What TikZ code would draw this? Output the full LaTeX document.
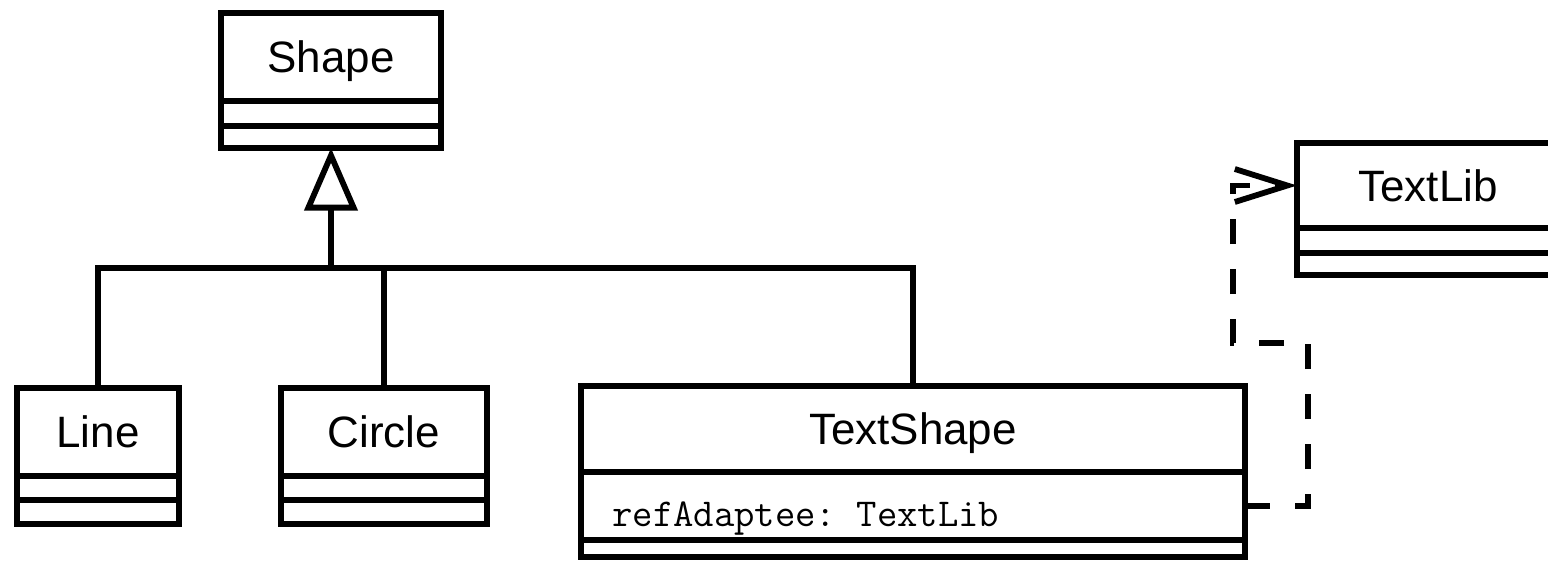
\documentclass[tikz,border=0pt]{standalone}
\usepackage{fontspec}
\setmainfont{Liberation Sans}
\usetikzlibrary{arrows.meta,positioning,calc}

\tikzset{
    classname/.style={draw, line width=3.3pt, outer sep=0pt, inner sep=0pt, text height=0.62cm, text depth=0pt, font=\fontsize{25}{29}\selectfont},
    classpart/.style={draw, line width=3.3pt, outer sep=0pt, inner sep=0pt},
    inherit/.style={line width=3.3pt, -{Triangle[open, length=1.25cm, width=1.05cm]}},
    dep/.style={line width=3.3pt, dash pattern=on 0.5cm off 0.5cm, -{Straight Barb[length=1.05cm, width=0.66cm]}},
}

\begin{document}
\begin{tikzpicture}
        \useasboundingbox (0, 0) rectangle (30.96, -11.22);
        % name box, then attribute and operation boxes under it
        \node [classname, minimum width=4.4cm, minimum height=1.76cm, anchor=north] (shape) at (6.62, -0.26) {Shape};
        \node [classpart, minimum width=4.4cm, minimum height=0.5cm, below=0pt of shape] (shape attr) {};
        \node [classpart, minimum width=4.4cm, minimum height=0.44cm, below=0pt of shape attr] (shape ops) {};

        \node [classname, minimum width=3.24cm, minimum height=1.76cm, anchor=north] (line) at (1.96, -7.76) {Line};
        \node [classpart, minimum width=3.24cm, minimum height=0.48cm, below=0pt of line] (line attr) {};
        \node [classpart, minimum width=3.24cm, minimum height=0.48cm, below=0pt of line attr] (line ops) {};

        \node [classname, minimum width=4.12cm, minimum height=1.76cm, anchor=north] (circ) at (7.68, -7.76) {Circle};
        \node [classpart, minimum width=4.12cm, minimum height=0.48cm, below=0pt of circ] (circ attr) {};
        \node [classpart, minimum width=4.12cm, minimum height=0.48cm, below=0pt of circ attr] (circ ops) {};

        \node [classname, minimum width=13.28cm, minimum height=1.72cm, anchor=north] (ts) at (18.26, -7.72) {TextShape};
        \node [classpart, minimum width=13.28cm, minimum height=1.36cm, below=0pt of ts] (ts attr) {};
        \node [classpart, minimum width=13.28cm, minimum height=0.34cm, below=0pt of ts attr] (ts ops) {};
        \node [font=\fontsize{22.5}{26}\selectfont\ttfamily\frenchspacing, inner sep=0pt, anchor=base west] (ts field) at ($(ts attr.west)+(0.62, -0.4)$) {refAdaptee: TextLib};

        \node [classname, minimum width=5.24cm, minimum height=1.7cm, anchor=north] (textlib) at (28.56, -2.86) {TextLib};
        \node [classpart, minimum width=5.24cm, minimum height=0.5cm, below=0pt of textlib] (textlib attr) {};
        \node [classpart, minimum width=5.24cm, minimum height=0.44cm, below=0pt of textlib attr] (textlib ops) {};

        % generalisation
        \coordinate (bus) at (6.62, -5.36);
        \draw [inherit] (bus) -- (shape ops.south);
        \draw [line width=3.3pt] (line.north) |- (ts.north |- bus) -- (ts.north);
        \draw [line width=3.3pt] (circ.north) -- (circ.north |- bus);

        % adaptee reference
        \coordinate (dep a) at (26.16, -6.86);
        \coordinate (dep b) at (24.66, -6.86);
        \draw [dep] (ts attr.east) -| (dep a) -- (dep b) |- (textlib.west);
\end{tikzpicture}
\end{document}
